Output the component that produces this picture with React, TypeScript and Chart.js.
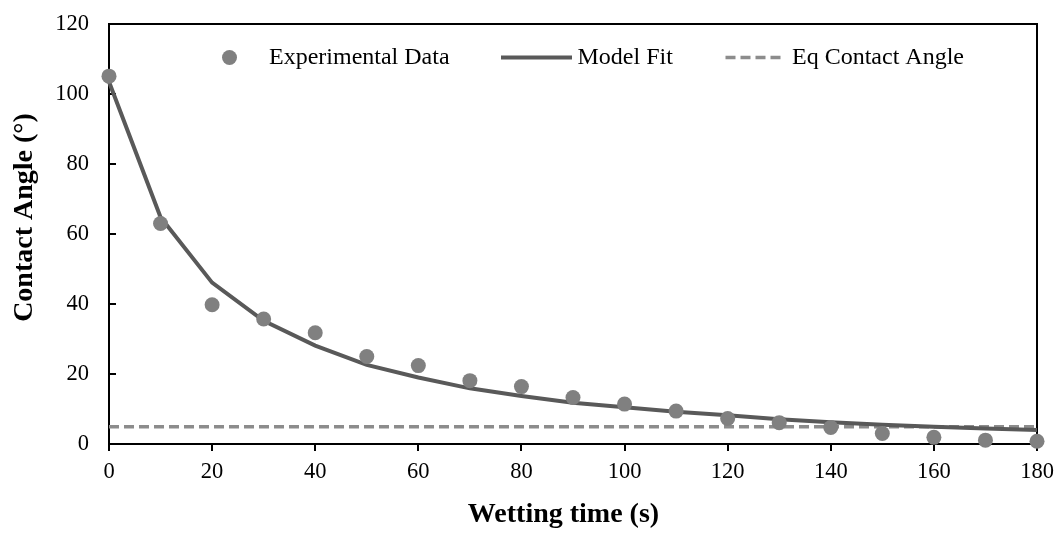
import React, { useEffect, useRef } from "react";
import { Chart, registerables } from "chart.js";

Chart.register(...registerables);

const timeValues = [0, 10, 20, 30, 40, 50, 60, 70, 80, 90, 100, 110, 120, 130, 140, 150, 160, 170, 180];
const experimentalAngles = [105.1, 63.0, 39.8, 35.7, 31.8, 25.0, 22.4, 18.1, 16.4, 13.3, 11.4, 9.4, 7.3, 6.1, 4.7, 3.0, 1.9, 1.1, 0.8];
const modelFitAngles = [103.5, 64.8, 46.1, 35.2, 28.1, 22.6, 19.0, 15.9, 13.7, 11.8, 10.5, 9.2, 8.2, 7.1, 6.2, 5.5, 4.9, 4.4, 4.0];
const eqTimes = [0, 180];
const eqAngles = [4.9, 4.9];
const xTickValues = [0, 20, 40, 60, 80, 100, 120, 140, 160, 180];
const yTickValues = [0, 20, 40, 60, 80, 100, 120];
const seriesNames = ["Experimental Data", "Model Fit", "Eq Contact Angle"];
const xAxisTitle = "Wetting time (s)";
const yAxisTitle = "Contact Angle (°)";

const FONT = "'Liberation Serif', 'Times New Roman', serif";
const POINT_COLOR = "#808080";
const MODEL_COLOR = "#595959";
const EQ_COLOR = "#8c8c8c";

const decorPlugin = {
  id: "decor",
  beforeDatasetsDraw(chart: any) {
    const { ctx, chartArea: a, scales } = chart;
    ctx.save();
    ctx.strokeStyle = "#000";
    ctx.lineWidth = 2;
    ctx.beginPath();
    ctx.moveTo(a.left - 1, a.top);
    ctx.lineTo(a.right, a.top);
    ctx.lineTo(a.right, a.bottom + 1);
    ctx.stroke();
    const ys = scales.y;
    ctx.beginPath();
    ys.ticks.forEach((t: any) => {
      const py = ys.getPixelForValue(t.value);
      ctx.moveTo(a.left, py);
      ctx.lineTo(a.left + 7, py);
    });
    ctx.stroke();
    ctx.restore();
  },
  afterDraw(chart: any) {
    const { ctx } = chart;
    const ds = chart.data.datasets;
    ctx.save();
    const ly = 57.5;
    ctx.font = `24px ${FONT}`;
    ctx.textAlign = "left";
    ctx.textBaseline = "middle";
    // experimental
    ctx.beginPath();
    ctx.fillStyle = ds[0].backgroundColor;
    ctx.arc(229.5, ly, 7.5, 0, Math.PI * 2);
    ctx.fill();
    ctx.fillStyle = "#000";
    ctx.fillText(ds[0].label, 269, ly);
    // model
    ctx.strokeStyle = ds[1].borderColor;
    ctx.lineWidth = ds[1].borderWidth;
    ctx.beginPath();
    ctx.moveTo(501, ly);
    ctx.lineTo(572, ly);
    ctx.stroke();
    ctx.fillText(ds[1].label, 577.5, ly);
    // eq
    ctx.strokeStyle = ds[2].borderColor;
    ctx.lineWidth = ds[2].borderWidth;
    ctx.setLineDash(ds[2].borderDash);
    ctx.beginPath();
    ctx.moveTo(725.5, ly);
    ctx.lineTo(785, ly);
    ctx.stroke();
    ctx.setLineDash([]);
    ctx.fillText(ds[2].label, 792, ly);
    // axis titles
    ctx.font = `bold 28px ${FONT}`;
    ctx.textAlign = "center";
    ctx.textBaseline = "alphabetic";
    ctx.fillText(xAxisTitle, 563.5, 522);
    ctx.translate(32, 217.5);
    ctx.rotate(-Math.PI / 2);
    ctx.fillText(yAxisTitle, 0, 0);
    ctx.restore();
  },
};

export default function App() {
  const canvasRef = useRef<HTMLCanvasElement | null>(null);

  useEffect(() => {
    if (!canvasRef.current) return;
    const chart = new Chart(canvasRef.current, {
      type: "scatter",
      data: {
        datasets: [
          {
            label: seriesNames[0],
            data: timeValues.map((x, i) => ({ x, y: experimentalAngles[i] })),
            backgroundColor: POINT_COLOR,
            borderColor: POINT_COLOR,
            pointRadius: 7.5,
            pointBorderWidth: 0,
            showLine: false,
            clip: false as any,
          },
          {
            label: seriesNames[1],
            data: timeValues.map((x, i) => ({ x, y: modelFitAngles[i] })),
            borderColor: MODEL_COLOR,
            backgroundColor: MODEL_COLOR,
            borderWidth: 4,
            pointRadius: 0,
            showLine: true,
            tension: 0,
            clip: false as any,
          },
          {
            label: seriesNames[2],
            data: eqTimes.map((x, i) => ({ x, y: eqAngles[i] })),
            borderColor: EQ_COLOR,
            backgroundColor: EQ_COLOR,
            borderWidth: 3.5,
            borderDash: [10, 5],
            pointRadius: 0,
            showLine: true,
            clip: false as any,
          },
        ],
      },
      options: {
        animation: false,
        responsive: false,
        layout: { padding: { top: 24, right: 23, left: 0, bottom: 0 } },
        plugins: {
          legend: { display: false },
          tooltip: { enabled: false },
        },
        scales: {
          x: {
            type: "linear",
            min: 0,
            max: 180,
            afterBuildTicks: (s: any) => {
              s.ticks = xTickValues.map((v) => ({ value: v }));
            },
            afterFit: (s: any) => {
              s.height = 90;
              s.paddingLeft = 0;
              s.paddingRight = 0;
            },
            grid: {
              display: true,
              drawOnChartArea: false,
              drawTicks: true,
              tickLength: 7,
              color: "#000",
              lineWidth: 2,
            },
            border: { display: true, color: "#000", width: 2 },
            ticks: {
              color: "#000",
              padding: 8,
              maxRotation: 0,
              font: { family: FONT, size: 22.5 },
            },
          },
          y: {
            type: "linear",
            min: 0,
            max: 120,
            afterBuildTicks: (s: any) => {
              s.ticks = yTickValues.map((v) => ({ value: v }));
            },
            afterFit: (s: any) => {
              s.width = 109;
              s.paddingTop = 0;
              s.paddingBottom = 0;
            },
            grid: { display: false, drawTicks: false },
            border: { display: true, color: "#000", width: 2 },
            ticks: {
              color: "#000",
              padding: 20,
              font: { family: FONT, size: 22.5 },
            },
          },
        },
      },
      plugins: [decorPlugin],
    });
    return () => chart.destroy();
  }, []);

  return (
    <div style={{ position: "fixed", left: 0, top: 0, width: 1060, height: 534, background: "#fff" }}>
      <canvas ref={canvasRef} width={1060} height={534} style={{ display: "block" }} />
    </div>
  );
}
